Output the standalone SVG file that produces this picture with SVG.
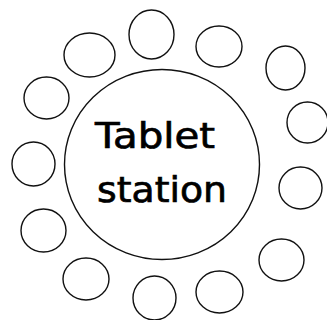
<svg xmlns="http://www.w3.org/2000/svg" width="327" height="320" viewBox="0 0 327 320">
<style>
.c{fill:none;stroke:#111;stroke-width:1.4}
.t{font-family:"DejaVu Sans",sans-serif;font-size:36px;fill:#000;stroke:#000;stroke-width:0.7}
</style>
<rect width="327" height="320" fill="#fff"/>
<g id="station">
<ellipse class="c" cx="162" cy="164.5" rx="97.5" ry="95"/>
<text class="t" x="95" y="148" textLength="120" lengthAdjust="spacingAndGlyphs">Tablet</text>
<text class="t" x="97" y="202" textLength="130" lengthAdjust="spacingAndGlyphs">station</text>
</g>
<g id="seat1"><ellipse class="c" cx="151.5" cy="34.5" rx="22.5" ry="24.5"/></g>
<g id="seat2"><ellipse class="c" cx="219" cy="46.5" rx="23" ry="20.5"/></g>
<g id="seat3"><ellipse class="c" cx="285.5" cy="68" rx="19.5" ry="22"/></g>
<g id="seat4"><ellipse class="c" cx="307.5" cy="122.5" rx="20.5" ry="20.5"/></g>
<g id="seat5"><ellipse class="c" cx="300.5" cy="188" rx="21.5" ry="21"/></g>
<g id="seat6"><ellipse class="c" cx="281.5" cy="260" rx="22.5" ry="21"/></g>
<g id="seat7"><ellipse class="c" cx="219.5" cy="292" rx="23.5" ry="21"/></g>
<g id="seat8"><ellipse class="c" cx="154.5" cy="298" rx="21.5" ry="22"/></g>
<g id="seat9"><ellipse class="c" cx="86" cy="279" rx="23" ry="21"/></g>
<g id="seat10"><ellipse class="c" cx="43.5" cy="230.5" rx="22.5" ry="21.5"/></g>
<g id="seat11"><ellipse class="c" cx="33.5" cy="164" rx="21.5" ry="22"/></g>
<g id="seat12"><ellipse class="c" cx="46.5" cy="98" rx="22.5" ry="21"/></g>
<g id="seat13"><ellipse class="c" cx="89.5" cy="55" rx="25.5" ry="22"/></g>
<g id="connectors"/>
</svg>
